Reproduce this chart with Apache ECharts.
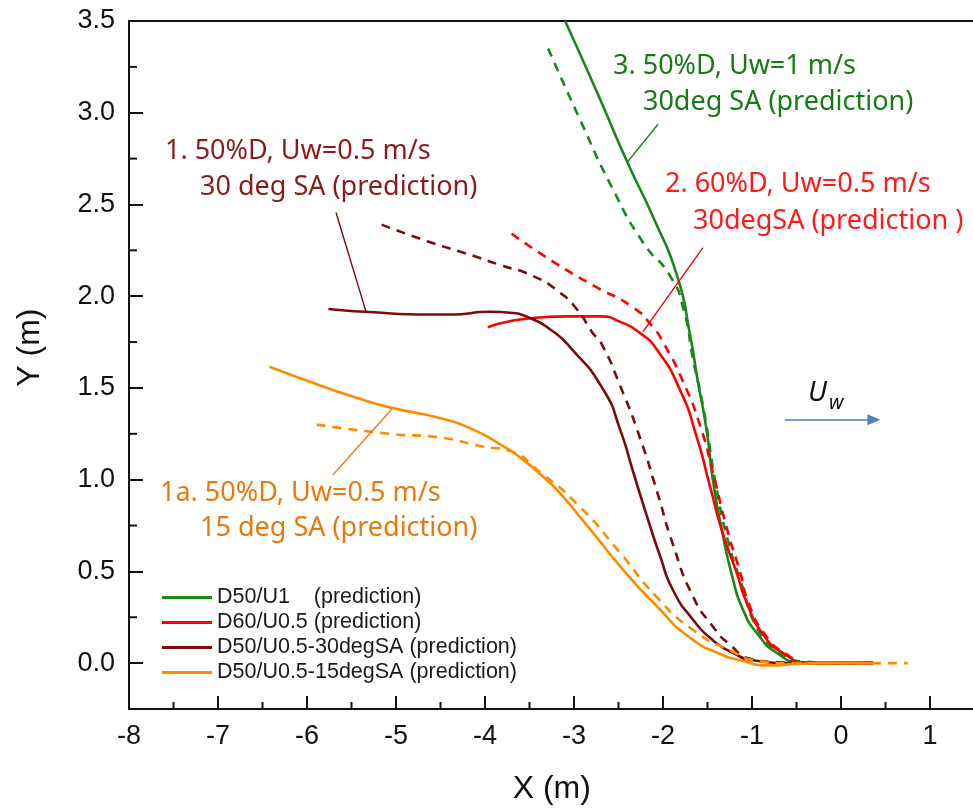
<!DOCTYPE html>
<html><head><meta charset="utf-8">
<script src="https://cdn.jsdelivr.net/npm/echarts@6/dist/echarts.min.js"></script>
<style>html,body{margin:0;padding:0;background:#fff}#c{width:973px;height:808px}</style>
</head><body><div id="c"></div>
<script>
// ---- tick labels ----
const xMajorTicks = [-8, -7, -6, -5, -4, -3, -2, -1, 0, 1];
const xMinorTicks = [-7.5, -6.5, -5.5, -4.5, -3.5, -2.5, -1.5, -0.5, 0.5];
const yMajorTicks = [0, 0.5, 1, 1.5, 2, 2.5, 3, 3.5];
const yMinorTicks = [0.25, 0.75, 1.25, 1.75, 2.25, 2.75, 3.25];

// ---- series values ----
const greenSolidX = [-3.10, -2.74, -2.40, -2.11, -1.84, -1.70, -1.61, -1.51, -1.44, -1.34, -1.21, -1.10, -0.94, -0.72, -0.46, -0.10, 0.36];
const greenSolidY = [3.50, 3.11, 2.73, 2.43, 2.11, 1.80, 1.54, 1.27, 1.00, 0.73, 0.45, 0.29, 0.16, 0.055, 0.005, 0.0, 0.005];
const greenDashX = [-3.29, -2.93, -2.56, -2.22, -1.92, -1.77, -1.66, -1.55, -1.39, -1.26, -1.13, -0.92, -0.70, -0.45, 0.0, 0.36];
const greenDashY = [3.35, 2.96, 2.58, 2.29, 2.11, 1.93, 1.65, 1.40, 0.93, 0.65, 0.45, 0.17, 0.06, 0.01, 0.0, 0.0];

const redSolidX = [-3.97, -3.49, -3.04, -2.71, -2.48, -2.26, -2.07, -1.81, -1.62, -1.47, -1.33, -1.17, -1.06, -0.88, -0.65, -0.35, 0.0, 0.36];
const redSolidY = [1.83, 1.88, 1.89, 1.89, 1.86, 1.80, 1.71, 1.49, 1.23, 0.96, 0.71, 0.49, 0.33, 0.16, 0.055, 0.0, 0.0, 0.005];
const redDashX = [-3.70, -3.24, -2.79, -2.34, -2.11, -2.00, -1.78, -1.58, -1.44, -1.28, -1.13, -1.04, -0.86, -0.62, -0.35, 0.36];
const redDashY = [2.34, 2.19, 2.06, 1.94, 1.83, 1.75, 1.54, 1.29, 1.04, 0.73, 0.49, 0.33, 0.16, 0.05, 0.0, 0.0];

const darkSolidX = [-5.76, -5.35, -4.62, -4.39, -3.94, -3.72, -3.49, -3.27, -3.04, -2.67, -2.48, -2.34, -2.18, -2.03, -1.89, -1.66, -1.44, -1.21, -0.99, -0.60, 0.0, 0.36];
const darkSolidY = [1.93, 1.915, 1.90, 1.90, 1.915, 1.91, 1.88, 1.82, 1.72, 1.49, 1.27, 1.05, 0.80, 0.58, 0.40, 0.235, 0.125, 0.055, 0.016, 0.0, 0.0, 0.0];
const darkDashX = [-5.16, -4.65, -4.13, -3.83, -3.46, -3.16, -2.97, -2.79, -2.69, -2.48, -2.26, -2.07, -1.89, -1.66, -1.44, -1.27, -0.99, -0.70, -0.30, 0.36];
const darkDashY = [2.39, 2.30, 2.22, 2.17, 2.11, 2.02, 1.93, 1.80, 1.74, 1.51, 1.23, 0.94, 0.65, 0.36, 0.20, 0.11, 0.02, 0.005, 0.0, 0.0];

const orangeSolidX = [-6.42, -5.89, -5.40, -5.03, -4.51, -4.17, -3.79, -3.57, -3.31, -3.19, -2.82, -2.45, -2.07, -1.70, -1.33, -1.13, -0.83, -0.50, -0.20, 0.36];
const orangeSolidY = [1.615, 1.52, 1.44, 1.39, 1.336, 1.281, 1.181, 1.108, 0.999, 0.944, 0.73, 0.51, 0.31, 0.14, 0.044, 0.016, -0.012, -0.005, 0.0, 0.0];
const orangeDashX = [-5.89, -5.07, -4.51, -4.02, -3.75, -3.38, -2.93, -2.48, -2.07, -1.66, -1.25, -0.91, -0.60, 0.0, 0.75];
const orangeDashY = [1.30, 1.25, 1.23, 1.18, 1.16, 1.04, 0.85, 0.60, 0.36, 0.18, 0.07, 0.01, 0.0, 0.0, 0.0];

// ---- legend names ----
const legendNames = ['D50/U1    (prediction)', 'D60/U0.5 (prediction)', 'D50/U0.5-30degSA (prediction)', 'D50/U0.5-15degSA (prediction)'];

// ---- leader lines (data coords) ----
const leader1X = [-5.674, -5.337], leader1Y = [2.456, 1.916];
const leader3X = [-2.056, -2.404], leader3Y = [2.937, 2.729];
const leader2X = [-1.551, -2.225], leader2Y = [2.265, 1.807];
const leader1aX = [-5.034, -5.708], leader1aY = [1.392, 1.026];

const zip = (xs, ys) => xs.map((x, i) => [x, ys[i]]);

const C_GREEN = '#1a871a', C_RED = '#ff0000', C_DARK = '#7a0c0c', C_ORANGE = '#ff8c00';

function curve(name, xs, ys, color, dashed) {
  return {
    name: name, type: 'line', data: zip(xs, ys), smooth: 0.6, symbol: 'none', silent: true,
    lineStyle: { color: color, width: 2.6, type: dashed ? [9, 7] : 'solid', cap: 'butt' },
    itemStyle: { color: color }, z: 3
  };
}
function leader(xs, ys, color) {
  return { type: 'line', data: zip(xs, ys), symbol: 'none', silent: true,
    lineStyle: { color: color, width: 1.4 }, z: 4 };
}

const chart = echarts.init(document.getElementById('c'), null, { renderer: 'canvas' });
const AX = '#111';
const tickFont = { fontSize: 27, fontFamily: '"Liberation Sans", Arial, sans-serif', color: '#111' };

chart.setOption({
  backgroundColor: '#fff',
  animation: false,
  grid: { left: 129, top: 21, width: 845.5, height: 688, containLabel: false, outerBoundsMode: 'none' },
  xAxis: [
    { type: 'value', min: -8, max: 1.5, position: 'bottom',
      axisLine: { onZero: false, lineStyle: { color: AX, width: 2 } },
      axisTick: { inside: true, length: 13, customValues: xMajorTicks, lineStyle: { color: AX, width: 2 } },
      axisLabel: Object.assign({ customValues: xMajorTicks, margin: 14, formatter: v => String(v) }, tickFont),
      splitLine: { show: false },
      name: 'X (m)', nameLocation: 'middle', nameGap: 64,
      nameTextStyle: { fontSize: 32, fontFamily: '"Liberation Sans", Arial, sans-serif', color: '#111' } },
    { type: 'value', min: -8, max: 1.5, position: 'top',
      axisLine: { onZero: false, lineStyle: { color: AX, width: 2 } },
      axisTick: { show: false }, axisLabel: { show: false }, splitLine: { show: false } }
  ],
  yAxis: [
    { type: 'value', min: -0.25, max: 3.5, position: 'left',
      axisLine: { onZero: false, lineStyle: { color: AX, width: 2 } },
      axisTick: { inside: true, length: 14, customValues: yMajorTicks, lineStyle: { color: AX, width: 2 } },
      axisLabel: Object.assign({ customValues: yMajorTicks, margin: 14, formatter: v => v.toFixed(1) }, tickFont),
      splitLine: { show: false } }
  ],
  legend: {
    data: legendNames, orient: 'vertical', left: 157, top: 580,
    itemWidth: 50, itemHeight: 12, itemGap: 0, icon: 'path://M0,5L50,5L50,8L0,8Z',
    textStyle: { fontSize: 21.5, lineHeight: 25, fontFamily: '"Liberation Sans", Arial, sans-serif', color: '#1a1a1a' },
    selectedMode: false
  },
  series: [
    curve(legendNames[0], greenSolidX, greenSolidY, C_GREEN, false),
    curve('g-dash', greenDashX, greenDashY, C_GREEN, true),
    curve(legendNames[1], redSolidX, redSolidY, C_RED, false),
    curve('r-dash', redDashX, redDashY, C_RED, true),
    curve(legendNames[2], darkSolidX, darkSolidY, C_DARK, false),
    curve('d-dash', darkDashX, darkDashY, C_DARK, true),
    curve(legendNames[3], orangeSolidX, orangeSolidY, C_ORANGE, false),
    curve('o-dash', orangeDashX, orangeDashY, C_ORANGE, true),
    leader(leader1X, leader1Y, C_DARK),
    leader(leader3X, leader3Y, C_GREEN),
    leader(leader2X, leader2Y, C_RED),
    leader(leader1aX, leader1aY, '#e8790f'),
    { type: 'line', data: [], silent: true,
      markLine: { silent: true, symbol: ['none', 'triangle'], symbolSize: [11, 13], label: { show: false },
        lineStyle: { color: '#4f81bd', width: 1.6, type: 'solid' },
        data: [[{ coord: [-0.63, 1.326] }, { coord: [0.37, 1.326] }]] } }
  ]
});

const toPx = (x, y) => chart.convertToPixel({ xAxisIndex: 0, yAxisIndex: 0 }, [x, y]);
const FONT_NOTE = '"Noto Sans", "Open Sans", sans-serif';

// ---- annotations (data-anchored) ----
const notes = [
  { t: '1. 50%D, Uw=0.5 m/s', x: -7.596, y: 2.79, c: '#8b1a1a' },
  { t: '30 deg SA (prediction)', x: -7.202, y: 2.593, c: '#8b1a1a' },
  { t: '3. 50%D, Uw=1 m/s', x: -2.562, y: 3.253, c: '#177a17' },
  { t: '30deg SA (prediction)', x: -2.225, y: 3.057, c: '#177a17' },
  { t: '2. 60%D, Uw=0.5 m/s', x: -1.978, y: 2.609, c: '#ff1a1a' },
  { t: '30degSA (prediction )', x: -1.663, y: 2.407, c: '#ff1a1a' },
  { t: '1a. 50%D, Uw=0.5 m/s', x: -7.652, y: 0.928, c: '#e8790f' },
  { t: '15 deg SA (prediction)', x: -7.202, y: 0.737, c: '#e8790f' }
];
const graphics = notes.map(n => {
  const p = toPx(n.x, n.y);
  return { type: 'text', x: p[0], y: p[1], z: 100, silent: true,
    style: { text: n.t, fill: n.c, fontSize: 27, fontFamily: FONT_NOTE, align: 'left', verticalAlign: 'middle' } };
});
const pU = toPx(-0.371, 1.474);
const pW = toPx(-0.135, 1.414);
graphics.push({ type: 'text', x: pU[0], y: pU[1], z: 100, silent: true,
  style: { text: 'U', fill: '#111', fontSize: 28, fontStyle: 'italic', fontFamily: FONT_NOTE, align: 'left', verticalAlign: 'middle' } });
graphics.push({ type: 'text', x: pW[0], y: pW[1], z: 100, silent: true,
  style: { text: 'w', fill: '#111', fontSize: 20, fontStyle: 'italic', fontFamily: FONT_NOTE, align: 'left', verticalAlign: 'middle' } });

// ---- minor ticks (inside) ----
xMinorTicks.forEach(v => {
  const p = toPx(v, -0.25);
  graphics.push({ type: 'line', silent: true, z: 50, shape: { x1: p[0], y1: p[1], x2: p[0], y2: p[1] - 7 },
    style: { stroke: AX, lineWidth: 2 } });
});
yMinorTicks.forEach(v => {
  const p = toPx(-8, v);
  graphics.push({ type: 'line', silent: true, z: 50, shape: { x1: p[0], y1: p[1], x2: p[0] + 8, y2: p[1] },
    style: { stroke: AX, lineWidth: 2 } });
});

// ---- Y axis title ----
const pY = toPx(-8, 1.72);
graphics.push({ type: 'text', x: pY[0] - 99, y: pY[1], rotation: Math.PI / 2, z: 100, silent: true,
  style: { text: 'Y (m)', fill: '#111', fontSize: 32, fontFamily: '"Liberation Sans", Arial, sans-serif', align: 'center', verticalAlign: 'middle' } });

chart.setOption({ graphic: graphics });
</script></body></html>
